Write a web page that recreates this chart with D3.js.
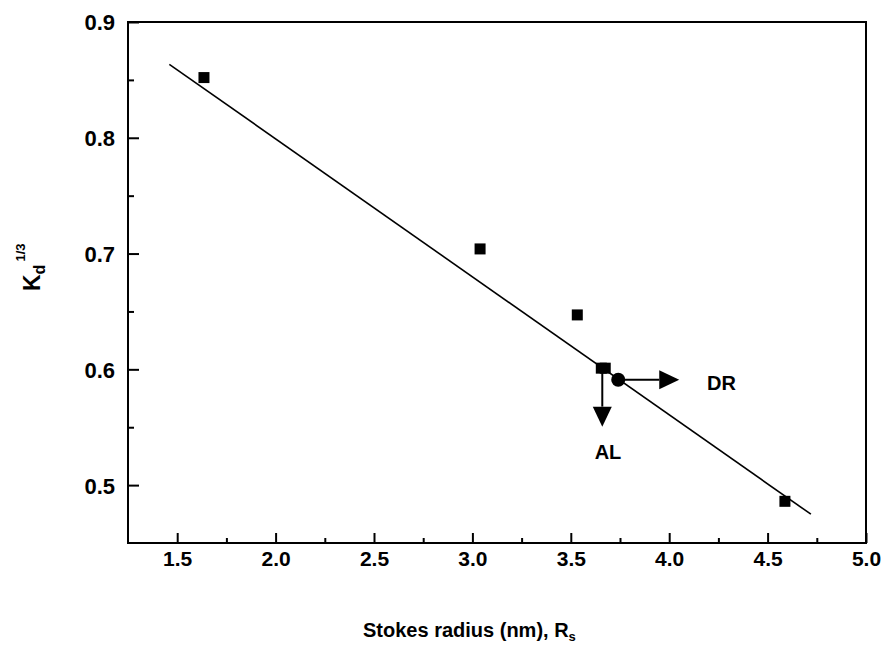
<!DOCTYPE html>
<html>
<head>
<meta charset="utf-8">
<script src="https://cdn.jsdelivr.net/npm/d3@7"></script>
<style>
  html, body { margin: 0; padding: 0; background: #fff; }
  svg text { font-family: "Liberation Sans", Arial, sans-serif; font-weight: bold; fill: #000; }
</style>
</head>
<body>
<svg id="chart" width="887" height="656"></svg>
<script>
// Stokes radius (nm) vs Kd^(1/3) for the calibration proteins
const radius = [1.636, 3.039, 3.533, 3.655, 3.675, 4.588];
const kd13   = [0.852, 0.704, 0.647, 0.601, 0.601, 0.486];

// Protein of interest (circle) and the two shifted forms
const dr = { x: 3.741, y: 0.591 };
const alShift = { x0: 3.660, y0: 0.601, x1: 3.660, y1: 0.5505 };  // AL arrow
const drShift = { x0: 3.741, y0: 0.591, x1: 4.051, y1: 0.591 };   // DR arrow

// Linear fit
const fitSlope = -0.1192;
const fitIntercept = 1.0375;
const fitRange = [1.46, 4.72];

const xMajor = [1.5, 2.0, 2.5, 3.0, 3.5, 4.0, 4.5, 5.0];
const xMinor = [1.75, 2.25, 2.75, 3.25, 3.75, 4.25, 4.75];
const yMajor = [0.5, 0.6, 0.7, 0.8, 0.9];
const yMinor = [0.55, 0.65, 0.75, 0.85];

const svg = d3.select("#chart");
const x = d3.scaleLinear().domain([1.25, 5.0]).range([128, 866]);
const y = d3.scaleLinear().domain([0.45, 0.9]).range([543, 22]);

// Inward ticks on the bottom axis
const xAxisMajor = d3.axisBottom(x).tickValues(xMajor).tickSize(-10).tickFormat(d3.format(".1f"));
const gx = svg.append("g").attr("transform", `translate(0,${y.range()[0]})`).call(xAxisMajor);
gx.select(".domain").remove();
gx.selectAll(".tick line").attr("stroke", "#000").attr("stroke-width", 2);
gx.selectAll(".tick text").attr("y", 0).attr("dy", 23).attr("font-size", 21).attr("fill", "#000");
const gxm = svg.append("g").attr("transform", `translate(0,${y.range()[0]})`)
  .call(d3.axisBottom(x).tickValues(xMinor).tickSize(-5).tickFormat(""));
gxm.select(".domain").remove();
gxm.selectAll(".tick line").attr("stroke", "#000").attr("stroke-width", 2);

// Inward ticks on the left axis
const gy = svg.append("g").attr("transform", `translate(${x.range()[0]},0)`)
  .call(d3.axisLeft(y).tickValues(yMajor).tickSize(-11).tickFormat(d3.format(".1f")));
gy.select(".domain").remove();
gy.selectAll(".tick line").attr("stroke", "#000").attr("stroke-width", 2);
gy.selectAll(".tick text").attr("x", -13).attr("dy", "0.36em").attr("font-size", 22).attr("fill", "#000");
const gym = svg.append("g").attr("transform", `translate(${x.range()[0]},0)`)
  .call(d3.axisLeft(y).tickValues(yMinor).tickSize(-6).tickFormat(""));
gym.select(".domain").remove();
gym.selectAll(".tick line").attr("stroke", "#000").attr("stroke-width", 2);

// Plot frame
svg.append("rect")
  .attr("x", x.range()[0]).attr("y", y.range()[1])
  .attr("width", x.range()[1] - x.range()[0])
  .attr("height", y.range()[0] - y.range()[1])
  .attr("fill", "none").attr("stroke", "#000").attr("stroke-width", 2);

// Fit line
svg.append("line")
  .attr("x1", x(fitRange[0])).attr("y1", y(fitIntercept + fitSlope * fitRange[0]))
  .attr("x2", x(fitRange[1])).attr("y2", y(fitIntercept + fitSlope * fitRange[1]))
  .attr("stroke", "#000").attr("stroke-width", 1.6);

// Calibration points
const sq = 11;
svg.append("g").selectAll("rect").data(radius.map((r, i) => [r, kd13[i]])).join("rect")
  .attr("x", d => x(d[0]) - sq / 2).attr("y", d => y(d[1]) - sq / 2)
  .attr("width", sq).attr("height", sq).attr("fill", "#000");

// Arrows
function arrow(a) {
  const x0 = x(a.x0), y0 = y(a.y0), x1 = x(a.x1), y1 = y(a.y1);
  const ang = Math.atan2(y1 - y0, x1 - x0);
  const len = 20, half = 9.5;
  const bx = x1 - len * Math.cos(ang), by = y1 - len * Math.sin(ang);
  svg.append("line").attr("x1", x0).attr("y1", y0).attr("x2", bx).attr("y2", by)
    .attr("stroke", "#000").attr("stroke-width", 2);
  const px = -Math.sin(ang) * half, py = Math.cos(ang) * half;
  svg.append("path")
    .attr("d", `M${x1},${y1}L${bx + px},${by + py}L${bx - px},${by - py}Z`)
    .attr("fill", "#000");
}
arrow(alShift);
arrow(drShift);

// Protein of interest
svg.append("circle").attr("cx", x(dr.x)).attr("cy", y(dr.y)).attr("r", 7).attr("fill", "#000");

// Arrow labels
svg.append("text").attr("x", 707).attr("y", 390).attr("font-size", 20).text("DR");
svg.append("text").attr("x", 608).attr("y", 459).attr("font-size", 20)
  .attr("text-anchor", "middle").text("AL");

// Axis titles
const xt = svg.append("text").attr("x", 363).attr("y", 637).attr("font-size", 20);
xt.append("tspan").text("Stokes radius (nm), R");
xt.append("tspan").attr("font-size", 13).attr("dy", 4).text("s");

const yt = svg.append("text").attr("transform", "translate(40,291) rotate(-90)").attr("font-size", 23);
yt.append("tspan").text("K");
yt.append("tspan").attr("font-size", 16).attr("dy", 5).text("d");
yt.append("tspan").attr("font-size", 13).attr("dx", 3).attr("dy", -20).text("1/3");
</script>
</body>
</html>
